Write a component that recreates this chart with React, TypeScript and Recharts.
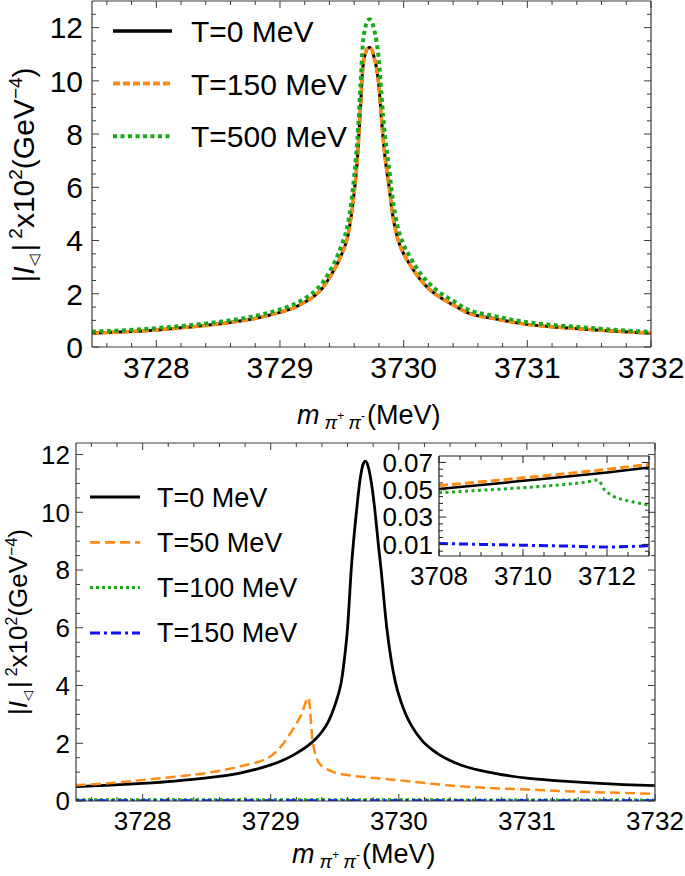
import React from "react";
import { LineChart, Line, XAxis, YAxis } from "recharts";

// ---- top panel: T = 0, 150, 500 MeV ----
const topMass = [
  3727.48, 3727.75, 3728, 3728.25, 3728.5, 3728.75, 3729, 3729.1, 3729.2, 3729.3,
  3729.35, 3729.4, 3729.45, 3729.5, 3729.55, 3729.6, 3729.625, 3729.65, 3729.67, 3729.69,
  3729.705, 3729.725, 3729.745, 3729.76, 3729.78, 3729.8, 3729.82, 3729.85, 3729.88, 3729.91,
  3729.95, 3730, 3730.05, 3730.1, 3730.15, 3730.2, 3730.3, 3730.4, 3730.5, 3730.75,
  3731, 3731.25, 3731.5, 3731.75, 3732,
];
const topT0 = [
  0.52, 0.57, 0.64, 0.74, 0.86, 1.03, 1.3, 1.45, 1.68, 2.0,
  2.25, 2.6, 3.0, 3.5, 4.2, 5.8, 7.0, 8.9, 10.5, 11.0,
  11.2, 11.25, 11.15, 10.9, 10.5, 9.8, 8.6, 7.1, 6.1, 5.0,
  4.1, 3.5, 3.1, 2.75, 2.45, 2.2, 1.85, 1.58, 1.32, 1.05,
  0.85, 0.74, 0.66, 0.58, 0.52,
];
const topT150 = [
  0.52, 0.57, 0.64, 0.74, 0.86, 1.03, 1.3, 1.45, 1.68, 2.0,
  2.25, 2.6, 3.0, 3.5, 4.2, 5.8, 7.0, 8.9, 10.5, 11.0,
  11.2, 11.25, 11.15, 10.9, 10.5, 9.8, 8.6, 7.1, 6.1, 5.0,
  4.1, 3.5, 3.1, 2.75, 2.45, 2.2, 1.85, 1.58, 1.32, 1.05,
  0.85, 0.74, 0.66, 0.58, 0.52,
];
const topT500 = [
  0.58, 0.63, 0.71, 0.81, 0.94, 1.12, 1.41, 1.58, 1.83, 2.18,
  2.45, 2.83, 3.27, 3.85, 4.65, 6.4, 7.75, 9.75, 11.4, 12.0,
  12.25, 12.31, 12.2, 11.95, 11.5, 10.75, 9.5, 7.9, 6.8, 5.6,
  4.55, 3.85, 3.4, 3.0, 2.68, 2.42, 2.02, 1.74, 1.45, 1.15,
  0.93, 0.81, 0.72, 0.63, 0.57,
];

// ---- bottom panel: T = 0, 50, 100, 150 MeV ----
const botMassT0 = [
  3727.48, 3727.75, 3728, 3728.25, 3728.5, 3728.75, 3729, 3729.1, 3729.2, 3729.3,
  3729.35, 3729.4, 3729.45, 3729.5, 3729.525, 3729.55, 3729.575, 3729.6, 3729.63, 3729.67,
  3729.7, 3729.72, 3729.74, 3729.76, 3729.79, 3729.815, 3729.84, 3729.862, 3729.906, 3729.94,
  3729.974, 3730.02, 3730.06, 3730.1, 3730.18, 3730.3, 3730.4, 3730.5, 3730.75, 3731,
  3731.25, 3731.5, 3731.75, 3732,
];
const botT0 = [
  0.5, 0.55, 0.61, 0.69, 0.8, 0.96, 1.25, 1.42, 1.65, 1.95,
  2.15, 2.4, 2.75, 3.3, 3.65, 4.1, 4.9, 6.0, 8.1, 10.05,
  11.2, 11.65, 11.77, 11.6, 10.9, 10.0, 8.9, 8.0, 6.0, 4.9,
  4.1, 3.4, 2.95, 2.6, 2.1, 1.65, 1.4, 1.22, 0.96, 0.79,
  0.7, 0.63, 0.57, 0.53,
];
const botMassT50 = [
  3727.48, 3727.75, 3728, 3728.25, 3728.5, 3728.75, 3729, 3729.1, 3729.175, 3729.24,
  3729.294, 3729.327, 3729.38, 3729.48, 3729.6, 3729.75, 3730, 3730.25, 3730.5, 3730.75,
  3731, 3731.25, 3731.5, 3731.75, 3732,
];
const botT50 = [
  0.55, 0.62, 0.73, 0.84, 0.97, 1.19, 1.55, 2.0, 2.5, 3.0,
  3.58, 2.1, 1.3, 1.02, 0.9, 0.82, 0.72, 0.6, 0.5, 0.44,
  0.4, 0.35, 0.31, 0.28, 0.25,
];
const botMassFlat = [3727.48, 3728.5, 3729.5, 3730.5, 3731.5, 3732];
const botT100 = [0.04, 0.042, 0.045, 0.038, 0.033, 0.031];
const botT150 = [0.008, 0.008, 0.008, 0.007, 0.007, 0.007];

// ---- inset (3708 - 3713 MeV) ----
const insMass = [3708, 3709, 3710, 3711, 3712, 3713];
const insT0 = [0.0505, 0.0535, 0.0565, 0.0595, 0.0627, 0.0662];
const insT50 = [0.053, 0.0558, 0.0587, 0.0617, 0.065, 0.0685];
const insMassT100 = [3708, 3709, 3710, 3711, 3711.5, 3711.78, 3711.94, 3712.14, 3712.46, 3712.75, 3713];
const insT100 = [0.0478, 0.0496, 0.0515, 0.0539, 0.0556, 0.0571, 0.05, 0.0454, 0.0422, 0.0402, 0.0388];
const insMassT150 = [3708, 3709, 3710, 3711, 3712, 3712.5, 3713];
const insT150 = [0.0107, 0.01, 0.0094, 0.0088, 0.0081, 0.0084, 0.009];

// ---- ticks ----
const massMajor = [3728, 3729, 3730, 3731, 3732];
const yMajor = [0, 2, 4, 6, 8, 10, 12];
const insXMajor = [3708, 3710, 3712];
const insYMajor = [0.01, 0.03, 0.05, 0.07];

const steps = (from: number, to: number, step: number, digits: number) => {
  const out: number[] = [];
  for (let k = 0; from + k * step <= to + 1e-9; k++) out.push(+(from + k * step).toFixed(digits));
  return out;
};
const massTicks = steps(3727.6, 3732, 0.2, 1);
const topYTicks = steps(0, 12.5, 0.5, 1);
const botYTicks = steps(0, 12, 0.5, 1);
const insXTicks = steps(3708, 3713, 0.5, 1);
const insYTicks = steps(0.005, 0.07, 0.005, 3);

const zip = (xs: number[], ys: number[]) => xs.map((m, i) => ({ m, v: ys[i] }));

const FONT = "'Liberation Sans', Arial, sans-serif";
const FRAME = "#3a3a3a";
const BLACK = "#000000";
const ORANGE = "#ff8a14";
const GREEN = "#19a919";
const BLUE = "#1010ff";

function FrameTick(props: any) {
  const { x, y, payload, side, majors, size, gap, digits, color } = props;
  const v = payload?.value;
  const major = majors.some((t: number) => Math.abs(t - v) < 1e-6);
  const len = major ? 7 : 4;
  const label = major && size ? (digits ? Number(v).toFixed(digits) : String(v)) : null;
  let x2 = x;
  let y2 = y;
  if (side === "bottom") y2 = y - len;
  if (side === "top") y2 = y + len;
  if (side === "left") x2 = x + len;
  if (side === "right") x2 = x - len;
  return (
    <g>
      <line x1={x} y1={y} x2={x2} y2={y2} stroke={color || FRAME} strokeWidth={1} />
      {label && side === "bottom" && (
        <text x={x} y={y + gap} textAnchor="middle" fontSize={size} fontFamily={FONT} fill="#000">
          {label}
        </text>
      )}
      {label && side === "left" && (
        <text x={x - gap} y={y + size * 0.36} textAnchor="end" fontSize={size} fontFamily={FONT} fill="#000">
          {label}
        </text>
      )}
    </g>
  );
}

function Frame(p: {
  xDomain: number[];
  yDomain: number[];
  xTicks: number[];
  yTicks: number[];
  xMajor: number[];
  yMajor: number[];
  size: number;
  xGap: number;
  yGap: number;
  yDigits?: number;
  color: string;
}) {
  const axisLine = { stroke: p.color, strokeWidth: 1.2 };
  return [
    <XAxis
      key="xb"
      xAxisId="b"
      type="number"
      dataKey="m"
      domain={p.xDomain}
      allowDataOverflow
      ticks={p.xTicks}
      interval={0}
      height={30}
      tickSize={0}
      tickMargin={0}
      tickLine={false}
      axisLine={axisLine}
      tick={<FrameTick side="bottom" majors={p.xMajor} size={p.size} gap={p.xGap} color={p.color} />}
    />,
    <XAxis
      key="xt"
      xAxisId="t"
      orientation="top"
      type="number"
      dataKey="m"
      domain={p.xDomain}
      allowDataOverflow
      ticks={p.xTicks}
      interval={0}
      height={1}
      tickSize={0}
      tickMargin={0}
      tickLine={false}
      axisLine={axisLine}
      tick={<FrameTick side="top" majors={p.xMajor} color={p.color} />}
    />,
    <YAxis
      key="yl"
      yAxisId="l"
      type="number"
      domain={p.yDomain}
      allowDataOverflow
      ticks={p.yTicks}
      interval={0}
      width={50}
      tickSize={0}
      tickMargin={0}
      tickLine={false}
      axisLine={axisLine}
      tick={<FrameTick side="left" majors={p.yMajor} size={p.size} gap={p.yGap} digits={p.yDigits} color={p.color} />}
    />,
    <YAxis
      key="yr"
      yAxisId="r"
      orientation="right"
      type="number"
      domain={p.yDomain}
      allowDataOverflow
      ticks={p.yTicks}
      interval={0}
      width={1}
      tickSize={0}
      tickMargin={0}
      tickLine={false}
      axisLine={axisLine}
      tick={<FrameTick side="right" majors={p.yMajor} color={p.color} />}
    />,
  ];
}

function series(data: { m: number; v: number }[], color: string, width: number, dash?: string) {
  return (
    <Line
      xAxisId="b"
      yAxisId="l"
      data={data}
      dataKey="v"
      type="monotone"
      stroke={color}
      strokeWidth={width}
      strokeDasharray={dash}
      dot={false}
      activeDot={false}
      isAnimationActive={false}
    />
  );
}

const topLegend = [
  { name: "T=0 MeV", color: BLACK, width: 3.5, dash: undefined },
  { name: "T=150 MeV", color: ORANGE, width: 4, dash: "7 3" },
  { name: "T=500 MeV", color: GREEN, width: 4, dash: "4 3.5" },
];
const botLegend = [
  { name: "T=0 MeV", color: BLACK, width: 3, dash: undefined },
  { name: "T=50 MeV", color: ORANGE, width: 2.8, dash: "10 5" },
  { name: "T=100 MeV", color: GREEN, width: 3, dash: "3 3" },
  { name: "T=150 MeV", color: BLUE, width: 3, dash: "10 4 3 4" },
];

function YTitle({ x, y, size }: { x: number; y: number; size: number }) {
  const sup = Math.round(size * 0.62);
  const sh = Math.round(size * 0.4);
  return (
    <text transform={`translate(${x},${y}) rotate(-90)`} textAnchor="middle" fontSize={size} fontFamily={FONT} fill="#000">
      |<tspan fontStyle="italic">I</tspan>
      <tspan fontSize={Math.round(size * 0.5)} dy={5}>◁</tspan>
      <tspan dx={3} dy={-5}>|</tspan>
      <tspan fontSize={sup} dx={5} dy={-sh}>2</tspan>
      <tspan dy={sh}>x10</tspan>
      <tspan fontSize={sup} dy={-sh}>2</tspan>
      <tspan dy={sh}>(GeV</tspan>
      <tspan fontSize={sup} dy={-sh}>−4</tspan>
      <tspan dy={sh}>)</tspan>
    </text>
  );
}

function XTitle({ x, y, size }: { x: number; y: number; size: number }) {
  const sub = Math.round(size * 0.7);
  const sup = Math.round(size * 0.45);
  return (
    <text x={x} y={y} fontSize={size} fontFamily={FONT} fill="#000">
      <tspan fontStyle="italic">m</tspan>
      <tspan fontSize={sub} fontStyle="italic" dx={5} dy={5}>π</tspan>
      <tspan fontSize={sup} dy={-9}>+</tspan>
      <tspan fontSize={sub} fontStyle="italic" dx={4} dy={9}>π</tspan>
      <tspan fontSize={sup} dy={-9}>-</tspan>
      <tspan dx={2} dy={4}>(MeV)</tspan>
    </text>
  );
}

export default function App() {
  return (
    <div style={{ position: "absolute", left: 0, top: 0, width: 685, height: 876, background: "#fff" }}>
      <div style={{ position: "absolute", left: 0, top: 0 }}>
        <LineChart width={685} height={430} margin={{ top: 0, right: 33, bottom: 53, left: 42 }}>
          {Frame({
            xDomain: [3727.48, 3732],
            yDomain: [0, 13],
            xTicks: massTicks,
            yTicks: topYTicks,
            xMajor: massMajor,
            yMajor: yMajor,
            size: 30,
            xGap: 31,
            yGap: 9,
            color: FRAME,
          })}
          {series(zip(topMass, topT0), BLACK, 3)}
          {series(zip(topMass, topT150), ORANGE, 3.5, "7 3")}
          {series(zip(topMass, topT500), GREEN, 4, "4 3.5")}
        </LineChart>
      </div>

      <div style={{ position: "absolute", left: 0, top: 430 }}>
        <LineChart width={685} height={446} margin={{ top: 12, right: 29, bottom: 45, left: 26 }}>
          {Frame({
            xDomain: [3727.48, 3732],
            yDomain: [0, 12.4],
            xTicks: massTicks,
            yTicks: botYTicks,
            xMajor: massMajor,
            yMajor: yMajor,
            size: 26,
            xGap: 29,
            yGap: 6,
            color: FRAME,
          })}
          {series(zip(botMassT0, botT0), BLACK, 2.8)}
          {series(zip(botMassT50, botT50), ORANGE, 2.5, "10 5")}
          {series(zip(botMassFlat, botT100), GREEN, 3, "3 3")}
          {series(zip(botMassFlat, botT150), BLUE, 3, "10 4 3 4")}
        </LineChart>
      </div>

      <div style={{ position: "absolute", left: 370, top: 440 }}>
        <LineChart width={290} height={185} margin={{ top: 15, right: 10, bottom: 39, left: 19 }}>
          {Frame({
            xDomain: [3708, 3713],
            yDomain: [0.0015, 0.0747],
            xTicks: insXTicks,
            yTicks: insYTicks,
            xMajor: insXMajor,
            yMajor: insYMajor,
            size: 26,
            xGap: 29,
            yGap: 6,
            yDigits: 2,
            color: "#222",
          })}
          {series(zip(insMass, insT0), BLACK, 2.5)}
          {series(zip(insMass, insT50), ORANGE, 3, "9 4")}
          {series(zip(insMassT100, insT100), GREEN, 3, "3 3.5")}
          {series(zip(insMassT150, insT150), BLUE, 3, "9 4 3 4")}
        </LineChart>
      </div>

      <svg
        width={685}
        height={876}
        style={{ position: "absolute", left: 0, top: 0, pointerEvents: "none", overflow: "visible" }}
      >
        {topLegend.map((s, i) => (
          <g key={s.name}>
            <line x1={113} x2={172} y1={31 + i * 52.6} y2={31 + i * 52.6} stroke={s.color} strokeWidth={s.width} strokeDasharray={s.dash} />
            <text x={191} y={42 + i * 52.6} fontSize={30} fontFamily={FONT} fill="#000">
              {s.name}
            </text>
          </g>
        ))}
        {botLegend.map((s, i) => (
          <g key={s.name}>
            <line x1={90} x2={140} y1={497 + i * 45.3} y2={497 + i * 45.3} stroke={s.color} strokeWidth={s.width} strokeDasharray={s.dash} />
            <text x={157} y={506.5 + i * 45.3} fontSize={27} fontFamily={FONT} fill="#000">
              {s.name}
            </text>
          </g>
        ))}
        <YTitle x={34} y={175} size={30} />
        <YTitle x={27} y={622} size={26} />
        <XTitle x={297} y={424} size={27} />
        <XTitle x={292} y={863} size={27} />
      </svg>
    </div>
  );
}
